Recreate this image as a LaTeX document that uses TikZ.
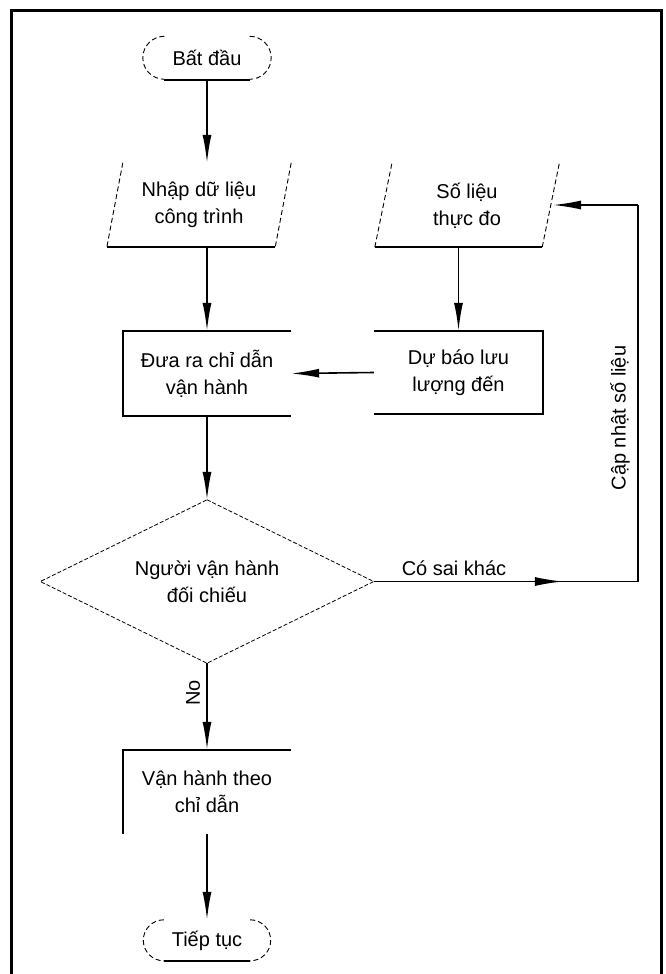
\documentclass[tikz,border=0pt]{standalone}
\usepackage{fontspec}
\setmainfont{Liberation Sans}
\usetikzlibrary{arrows.meta,decorations.markings,calc}
\begin{document}
\begin{tikzpicture}[x=1pt,y=-1pt,
  txt/.style={align=center, font=\fontsize{20}{27}\selectfont, inner sep=0pt},
  lbl/.style={font=\fontsize{20}{24}\selectfont, inner sep=0pt},
  solidln/.style={line width=1.6pt},
  dashln/.style={line width=0.9pt, dash pattern=on 5pt off 3pt},
  arr/.style={line width=1.6pt, -{Latex[length=28pt,width=9pt]}},
  midarr/.style={line width=1.6pt, decoration={markings, mark=at position 0.716 with {\arrow{Latex[length=28pt,width=9pt]}}}, postaction=decorate},
  frameln/.style={line width=3pt}
]
\useasboundingbox (0,0) rectangle (665,974);
\draw[frameln] (11,974) -- (11,11) -- (661,11) -- (661,974);

% nodes
\node[txt, minimum width=128pt, minimum height=43pt] (start) at (207,58) {Bất đầu};
\node[txt, minimum width=168pt, minimum height=84pt] (p1) at (199,205) {Nhập dữ liệu\\công trình};
\node[txt, minimum width=167pt, minimum height=83pt] (p2) at (467,205.5) {Số liệu\\thực đo};
\node[txt, minimum width=168pt, minimum height=85pt] (duara) at (207,373.5) {Đưa ra chỉ dẫn\\vận hành};
\node[txt, minimum width=169pt, minimum height=83pt] (dubao) at (458.5,372.5) {Dự báo lưu\\lượng đến};
\node[txt, minimum width=333pt, minimum height=163pt] (dia) at (207,581.5) {Người vận hành\\đối chiếu};
\node[txt, minimum width=168pt, minimum height=84pt] (vh) at (207,792) {Vận hành theo\\chỉ dẫn};
\node[txt, minimum width=127pt, minimum height=41pt] (end) at (207,940.5) {Tiếp tục};

% terminals
\draw[dashln] ($(start.north west)+(21.5,0)$) arc[start angle=270, end angle=90, radius=21.5];
\draw[dashln] ($(start.north east)+(-21.5,0)$) arc[start angle=-90, end angle=90, radius=21.5];
\draw[solidln] ($(start.south west)+(21.5,0)$) -- ($(start.south east)+(-21.5,0)$);
\draw[dashln] ($(end.north west)+(20.5,0)$) arc[start angle=270, end angle=90, radius=20.5];
\draw[dashln] ($(end.north east)+(-20.5,0)$) arc[start angle=-90, end angle=90, radius=20.5];
\draw[solidln] ($(end.south west)+(20.5,0)$) -- ($(end.south east)+(-20.5,0)$);

% parallelograms
\draw[dashln] ($(p1.north west)+(8,0)$) -- ($(p1.south west)+(-8,0)$);
\draw[dashln] ($(p1.north east)+(8,0)$) -- ($(p1.south east)+(-8,0)$);
\draw[solidln] ($(p1.south west)+(-8,0)$) -- ($(p1.south east)+(-8,0)$);
\draw[dashln] ($(p2.north west)+(8.5,0)$) -- ($(p2.south west)+(-8.5,0)$);
\draw[dashln] ($(p2.north east)+(8.5,0)$) -- ($(p2.south east)+(-8.5,0)$);
\draw[solidln] ($(p2.south west)+(-8.5,0)$) -- ($(p2.south east)+(-8.5,0)$);
\coordinate (p2r) at (553,205);

% boxes (open sides)
\draw[solidln] (duara.north east) -- (duara.north west) -- (duara.south west) -- (duara.south east);
\draw[solidln] (dubao.north west) -- (dubao.north east) -- (dubao.south east) -- (dubao.south west);
\draw[solidln] (vh.north east) -- (vh.north west) -- (vh.south west);

% diamond
\draw[line width=0.8pt, dash pattern=on 4pt off 2pt] (dia.north) -- (dia.east) -- (dia.south) -- (dia.west) -- cycle;

% connectors
\draw[arr] (start.south) -- (start.south |- p1.north);
\draw[arr] (duara.north |- p1.south) -- (duara.north);
\draw[arr] (dubao.north |- p2.south) -- (dubao.north);
\draw[arr] (dubao.west) -- (duara.east);
\draw[arr] (duara.south) -- (dia.north);
\coordinate (c1) at (638,581.5);
\coordinate (c2) at (638,205);
\draw[midarr] (dia.east) -- (c1);
\draw[solidln] (c1) -- (c2);
\draw[arr] (c2) -- (p2r);
\draw[arr] (dia.south) -- (vh.north);
\draw[arr] (vh.south) -- (end.north);

% labels
\node[lbl, anchor=base] (lblsai) at (454,575) {Có sai khác};
\node[lbl, rotate=90] (lblcap) at (620,418) {Cập nhật số liệu};
\node[lbl, rotate=90] (lblno) at (193,693) {No};
\end{tikzpicture}
\end{document}
